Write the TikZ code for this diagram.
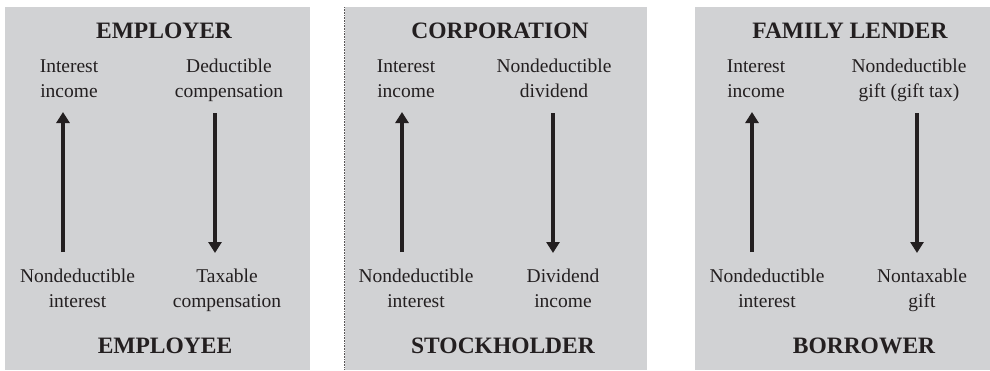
\documentclass[tikz,border=0pt]{standalone}
\usepackage{fontspec}
\setmainfont{Liberation Serif}
\usetikzlibrary{arrows.meta}
\definecolor{panelgray}{HTML}{D1D2D4}
\definecolor{ink}{HTML}{231F20}
\begin{document}
\begin{tikzpicture}[x=1pt,y=-1pt,
  panel/.style={fill=panelgray,draw=none},
  head/.style={anchor=base,inner sep=0pt,text=ink,font=\fontsize{23.5}{26}\selectfont\bfseries},
  lbl/.style={anchor=base,inner sep=0pt,text=ink,align=center,font=\fontsize{19.5}{24.5}\selectfont},
  flow/.style={draw=ink,line width=3.6pt,-{Triangle[width=13pt,length=11pt]}}]
\useasboundingbox (0,0) rectangle (990,370);
% panels
\fill[panel] (5,7) rectangle (310,370);
\fill[panel] (345,7) rectangle (647,370);
\fill[panel] (695,7) rectangle (990,370);
\draw[ink!75,densely dotted,line width=0.6pt] (344,7) -- (344,370);

% panel 1
\node[head] (h1) at (164,38) {EMPLOYER};
\node[lbl] (t1a) at (69,97) {Interest\\income};
\node[lbl] (t1b) at (229,97) {Deductible\\compensation};
\node[lbl] (b1a) at (77.5,307) {Nondeductible\\interest};
\node[lbl] (b1b) at (227,307) {Taxable\\compensation};
\node[head] (f1) at (165,353) {EMPLOYEE};
\coordinate (u1s) at (63,252); \coordinate (u1e) at (63,112);
\coordinate (d1s) at (215,113); \coordinate (d1e) at (215,253);
\draw[flow] (u1s) -- (u1e);
\draw[flow] (d1s) -- (d1e);

% panel 2
\node[head] (h2) at (500,38) {CORPORATION};
\node[lbl] (t2a) at (406,97) {Interest\\income};
\node[lbl] (t2b) at (554,97) {Nondeductible\\dividend};
\node[lbl] (b2a) at (416,307) {Nondeductible\\interest};
\node[lbl] (b2b) at (563,307) {Dividend\\income};
\node[head] (f2) at (503,353) {STOCKHOLDER};
\coordinate (u2s) at (402,252); \coordinate (u2e) at (402,112);
\coordinate (d2s) at (553,113); \coordinate (d2e) at (553,253);
\draw[flow] (u2s) -- (u2e);
\draw[flow] (d2s) -- (d2e);

% panel 3
\node[head] (h3) at (850,38) {FAMILY LENDER};
\node[lbl] (t3a) at (756,97) {Interest\\income};
\node[lbl] (t3b) at (909,97) {Nondeductible\\gift (gift tax)};
\node[lbl] (b3a) at (767,307) {Nondeductible\\interest};
\node[lbl] (b3b) at (922,307) {Nontaxable\\gift};
\node[head] (f3) at (864,353) {BORROWER};
\coordinate (u3s) at (752,252); \coordinate (u3e) at (752,112);
\coordinate (d3s) at (917,113); \coordinate (d3e) at (917,253);
\draw[flow] (u3s) -- (u3e);
\draw[flow] (d3s) -- (d3e);
\end{tikzpicture}
\end{document}
